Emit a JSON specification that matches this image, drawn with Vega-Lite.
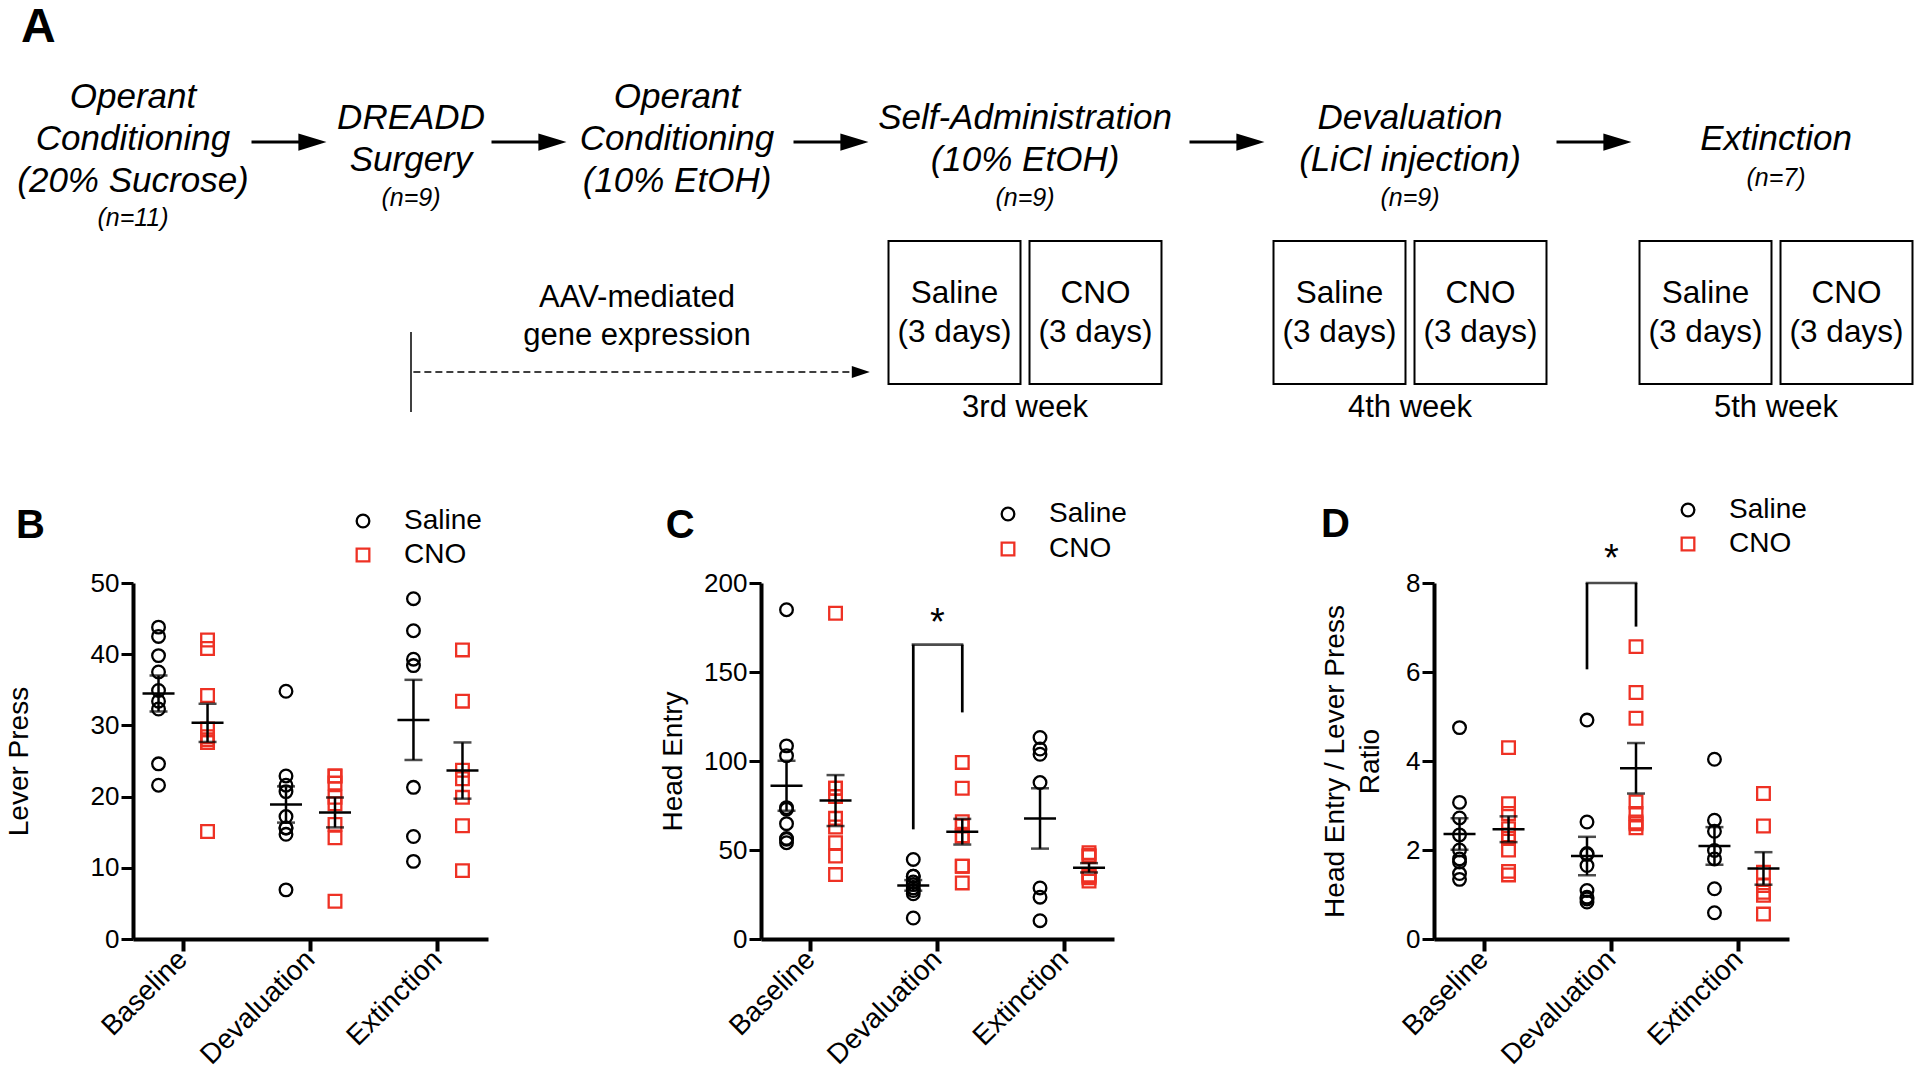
{
 "$schema": "https://vega.github.io/schema/vega-lite/v6.json",
 "padding": {"left": 5, "top": 0, "right": 0, "bottom": 0},
 "background": "white",
 "bounds": "flush",
 "spacing": 143,
 "resolve": {"scale": {"color": "independent", "shape": "independent"}},
 "datasets": {
  "stages": [
   {"stage": 1, "title": "Operant\nConditioning\n(20% Sucrose)", "n": "(n=11)", "lines": 3},
   {"stage": 2, "title": "DREADD\nSurgery", "n": "(n=9)", "lines": 2},
   {"stage": 3, "title": "Operant\nConditioning\n(10% EtOH)", "n": "", "lines": 3},
   {"stage": 4, "title": "Self-Administration\n(10% EtOH)", "n": "(n=9)", "lines": 2},
   {"stage": 5, "title": "Devaluation\n(LiCl injection)", "n": "(n=9)", "lines": 2},
   {"stage": 6, "title": "Extinction", "n": "(n=7)", "lines": 1}
  ],
  "arrows": [{"stage": 1.5}, {"stage": 2.5}, {"stage": 3.5}, {"stage": 4.5}, {"stage": 5.5}],
  "boxes": [
   {"stage": 4, "week": "3rd week"},
   {"stage": 5, "week": "4th week"},
   {"stage": 6, "week": "5th week"}
  ],
  "points": [
   {"panel": "B", "cond": "Baseline", "group": "Saline", "value": 43.8},
   {"panel": "B", "cond": "Baseline", "group": "Saline", "value": 42.5},
   {"panel": "B", "cond": "Baseline", "group": "Saline", "value": 39.8},
   {"panel": "B", "cond": "Baseline", "group": "Saline", "value": 37.5},
   {"panel": "B", "cond": "Baseline", "group": "Saline", "value": 34.9},
   {"panel": "B", "cond": "Baseline", "group": "Saline", "value": 33.4},
   {"panel": "B", "cond": "Baseline", "group": "Saline", "value": 32.3},
   {"panel": "B", "cond": "Baseline", "group": "Saline", "value": 24.6},
   {"panel": "B", "cond": "Baseline", "group": "Saline", "value": 21.6},
   {"panel": "B", "cond": "Baseline", "group": "CNO", "value": 42.0},
   {"panel": "B", "cond": "Baseline", "group": "CNO", "value": 40.8},
   {"panel": "B", "cond": "Baseline", "group": "CNO", "value": 34.2},
   {"panel": "B", "cond": "Baseline", "group": "CNO", "value": 29.5},
   {"panel": "B", "cond": "Baseline", "group": "CNO", "value": 28.4},
   {"panel": "B", "cond": "Baseline", "group": "CNO", "value": 28.0},
   {"panel": "B", "cond": "Baseline", "group": "CNO", "value": 27.6},
   {"panel": "B", "cond": "Baseline", "group": "CNO", "value": 27.6},
   {"panel": "B", "cond": "Baseline", "group": "CNO", "value": 15.1},
   {"panel": "B", "cond": "Devaluation", "group": "Saline", "value": 34.8},
   {"panel": "B", "cond": "Devaluation", "group": "Saline", "value": 22.9},
   {"panel": "B", "cond": "Devaluation", "group": "Saline", "value": 21.6},
   {"panel": "B", "cond": "Devaluation", "group": "Saline", "value": 20.7},
   {"panel": "B", "cond": "Devaluation", "group": "Saline", "value": 17.2},
   {"panel": "B", "cond": "Devaluation", "group": "Saline", "value": 15.6},
   {"panel": "B", "cond": "Devaluation", "group": "Saline", "value": 15.6},
   {"panel": "B", "cond": "Devaluation", "group": "Saline", "value": 14.7},
   {"panel": "B", "cond": "Devaluation", "group": "Saline", "value": 6.9},
   {"panel": "B", "cond": "Devaluation", "group": "CNO", "value": 22.9},
   {"panel": "B", "cond": "Devaluation", "group": "CNO", "value": 22.9},
   {"panel": "B", "cond": "Devaluation", "group": "CNO", "value": 21.9},
   {"panel": "B", "cond": "Devaluation", "group": "CNO", "value": 19.9},
   {"panel": "B", "cond": "Devaluation", "group": "CNO", "value": 19.0},
   {"panel": "B", "cond": "Devaluation", "group": "CNO", "value": 16.1},
   {"panel": "B", "cond": "Devaluation", "group": "CNO", "value": 14.2},
   {"panel": "B", "cond": "Devaluation", "group": "CNO", "value": 5.3},
   {"panel": "B", "cond": "Extinction", "group": "Saline", "value": 47.8},
   {"panel": "B", "cond": "Extinction", "group": "Saline", "value": 43.3},
   {"panel": "B", "cond": "Extinction", "group": "Saline", "value": 39.3},
   {"panel": "B", "cond": "Extinction", "group": "Saline", "value": 38.4},
   {"panel": "B", "cond": "Extinction", "group": "Saline", "value": 21.3},
   {"panel": "B", "cond": "Extinction", "group": "Saline", "value": 14.4},
   {"panel": "B", "cond": "Extinction", "group": "Saline", "value": 10.9},
   {"panel": "B", "cond": "Extinction", "group": "CNO", "value": 40.6},
   {"panel": "B", "cond": "Extinction", "group": "CNO", "value": 33.4},
   {"panel": "B", "cond": "Extinction", "group": "CNO", "value": 23.7},
   {"panel": "B", "cond": "Extinction", "group": "CNO", "value": 22.5},
   {"panel": "B", "cond": "Extinction", "group": "CNO", "value": 19.9},
   {"panel": "B", "cond": "Extinction", "group": "CNO", "value": 15.9},
   {"panel": "B", "cond": "Extinction", "group": "CNO", "value": 9.6},
   {"panel": "C", "cond": "Baseline", "group": "Saline", "value": 185},
   {"panel": "C", "cond": "Baseline", "group": "Saline", "value": 108.5},
   {"panel": "C", "cond": "Baseline", "group": "Saline", "value": 103},
   {"panel": "C", "cond": "Baseline", "group": "Saline", "value": 73.8},
   {"panel": "C", "cond": "Baseline", "group": "Saline", "value": 72.9},
   {"panel": "C", "cond": "Baseline", "group": "Saline", "value": 64.8},
   {"panel": "C", "cond": "Baseline", "group": "Saline", "value": 56.5},
   {"panel": "C", "cond": "Baseline", "group": "Saline", "value": 56},
   {"panel": "C", "cond": "Baseline", "group": "Saline", "value": 54.1},
   {"panel": "C", "cond": "Baseline", "group": "CNO", "value": 183},
   {"panel": "C", "cond": "Baseline", "group": "CNO", "value": 84.7},
   {"panel": "C", "cond": "Baseline", "group": "CNO", "value": 84.7},
   {"panel": "C", "cond": "Baseline", "group": "CNO", "value": 80},
   {"panel": "C", "cond": "Baseline", "group": "CNO", "value": 67.8},
   {"panel": "C", "cond": "Baseline", "group": "CNO", "value": 62.9},
   {"panel": "C", "cond": "Baseline", "group": "CNO", "value": 54.1},
   {"panel": "C", "cond": "Baseline", "group": "CNO", "value": 46.6},
   {"panel": "C", "cond": "Baseline", "group": "CNO", "value": 36.2},
   {"panel": "C", "cond": "Devaluation", "group": "Saline", "value": 44.7},
   {"panel": "C", "cond": "Devaluation", "group": "Saline", "value": 35.3},
   {"panel": "C", "cond": "Devaluation", "group": "Saline", "value": 35.3},
   {"panel": "C", "cond": "Devaluation", "group": "Saline", "value": 32},
   {"panel": "C", "cond": "Devaluation", "group": "Saline", "value": 30.6},
   {"panel": "C", "cond": "Devaluation", "group": "Saline", "value": 28.7},
   {"panel": "C", "cond": "Devaluation", "group": "Saline", "value": 27.2},
   {"panel": "C", "cond": "Devaluation", "group": "Saline", "value": 25.4},
   {"panel": "C", "cond": "Devaluation", "group": "Saline", "value": 11.8},
   {"panel": "C", "cond": "Devaluation", "group": "CNO", "value": 99.2},
   {"panel": "C", "cond": "Devaluation", "group": "CNO", "value": 84.7},
   {"panel": "C", "cond": "Devaluation", "group": "CNO", "value": 65.9},
   {"panel": "C", "cond": "Devaluation", "group": "CNO", "value": 63.5},
   {"panel": "C", "cond": "Devaluation", "group": "CNO", "value": 58},
   {"panel": "C", "cond": "Devaluation", "group": "CNO", "value": 57.8},
   {"panel": "C", "cond": "Devaluation", "group": "CNO", "value": 40.9},
   {"panel": "C", "cond": "Devaluation", "group": "CNO", "value": 40.9},
   {"panel": "C", "cond": "Devaluation", "group": "CNO", "value": 31.5},
   {"panel": "C", "cond": "Extinction", "group": "Saline", "value": 113.2},
   {"panel": "C", "cond": "Extinction", "group": "Saline", "value": 106.7},
   {"panel": "C", "cond": "Extinction", "group": "Saline", "value": 103.8},
   {"panel": "C", "cond": "Extinction", "group": "Saline", "value": 87.9},
   {"panel": "C", "cond": "Extinction", "group": "Saline", "value": 28.7},
   {"panel": "C", "cond": "Extinction", "group": "Saline", "value": 23.5},
   {"panel": "C", "cond": "Extinction", "group": "Saline", "value": 10.3},
   {"panel": "C", "cond": "Extinction", "group": "CNO", "value": 48.5},
   {"panel": "C", "cond": "Extinction", "group": "CNO", "value": 47.1},
   {"panel": "C", "cond": "Extinction", "group": "CNO", "value": 46.3},
   {"panel": "C", "cond": "Extinction", "group": "CNO", "value": 35.9},
   {"panel": "C", "cond": "Extinction", "group": "CNO", "value": 35.3},
   {"panel": "C", "cond": "Extinction", "group": "CNO", "value": 34.4},
   {"panel": "C", "cond": "Extinction", "group": "CNO", "value": 32.5},
   {"panel": "D", "cond": "Baseline", "group": "Saline", "value": 4.75},
   {"panel": "D", "cond": "Baseline", "group": "Saline", "value": 3.07},
   {"panel": "D", "cond": "Baseline", "group": "Saline", "value": 2.72},
   {"panel": "D", "cond": "Baseline", "group": "Saline", "value": 2.34},
   {"panel": "D", "cond": "Baseline", "group": "Saline", "value": 2.0},
   {"panel": "D", "cond": "Baseline", "group": "Saline", "value": 1.8},
   {"panel": "D", "cond": "Baseline", "group": "Saline", "value": 1.73},
   {"panel": "D", "cond": "Baseline", "group": "Saline", "value": 1.47},
   {"panel": "D", "cond": "Baseline", "group": "Saline", "value": 1.34},
   {"panel": "D", "cond": "Baseline", "group": "CNO", "value": 4.3},
   {"panel": "D", "cond": "Baseline", "group": "CNO", "value": 3.04},
   {"panel": "D", "cond": "Baseline", "group": "CNO", "value": 2.82},
   {"panel": "D", "cond": "Baseline", "group": "CNO", "value": 2.48},
   {"panel": "D", "cond": "Baseline", "group": "CNO", "value": 2.34},
   {"panel": "D", "cond": "Baseline", "group": "CNO", "value": 2.26},
   {"panel": "D", "cond": "Baseline", "group": "CNO", "value": 2.0},
   {"panel": "D", "cond": "Baseline", "group": "CNO", "value": 1.52},
   {"panel": "D", "cond": "Baseline", "group": "CNO", "value": 1.44},
   {"panel": "D", "cond": "Devaluation", "group": "Saline", "value": 4.92},
   {"panel": "D", "cond": "Devaluation", "group": "Saline", "value": 2.63},
   {"panel": "D", "cond": "Devaluation", "group": "Saline", "value": 1.92},
   {"panel": "D", "cond": "Devaluation", "group": "Saline", "value": 1.9},
   {"panel": "D", "cond": "Devaluation", "group": "Saline", "value": 1.65},
   {"panel": "D", "cond": "Devaluation", "group": "Saline", "value": 1.09},
   {"panel": "D", "cond": "Devaluation", "group": "Saline", "value": 0.94},
   {"panel": "D", "cond": "Devaluation", "group": "Saline", "value": 0.9},
   {"panel": "D", "cond": "Devaluation", "group": "Saline", "value": 0.83},
   {"panel": "D", "cond": "Devaluation", "group": "CNO", "value": 6.57},
   {"panel": "D", "cond": "Devaluation", "group": "CNO", "value": 5.54},
   {"panel": "D", "cond": "Devaluation", "group": "CNO", "value": 4.96},
   {"panel": "D", "cond": "Devaluation", "group": "CNO", "value": 3.08},
   {"panel": "D", "cond": "Devaluation", "group": "CNO", "value": 2.82},
   {"panel": "D", "cond": "Devaluation", "group": "CNO", "value": 2.63},
   {"panel": "D", "cond": "Devaluation", "group": "CNO", "value": 2.59},
   {"panel": "D", "cond": "Devaluation", "group": "CNO", "value": 2.5},
   {"panel": "D", "cond": "Extinction", "group": "Saline", "value": 4.04},
   {"panel": "D", "cond": "Extinction", "group": "Saline", "value": 2.67},
   {"panel": "D", "cond": "Extinction", "group": "Saline", "value": 2.42},
   {"panel": "D", "cond": "Extinction", "group": "Saline", "value": 1.99},
   {"panel": "D", "cond": "Extinction", "group": "Saline", "value": 1.8},
   {"panel": "D", "cond": "Extinction", "group": "Saline", "value": 1.13},
   {"panel": "D", "cond": "Extinction", "group": "Saline", "value": 0.59},
   {"panel": "D", "cond": "Extinction", "group": "CNO", "value": 3.27},
   {"panel": "D", "cond": "Extinction", "group": "CNO", "value": 2.54},
   {"panel": "D", "cond": "Extinction", "group": "CNO", "value": 1.5},
   {"panel": "D", "cond": "Extinction", "group": "CNO", "value": 1.2},
   {"panel": "D", "cond": "Extinction", "group": "CNO", "value": 1.05},
   {"panel": "D", "cond": "Extinction", "group": "CNO", "value": 0.98},
   {"panel": "D", "cond": "Extinction", "group": "CNO", "value": 0.56}
  ],
  "brackets": [
   {"panel": "C", "cond": "Devaluation", "group": "Saline", "lo": 61.6, "hi": 165.4},
   {"panel": "C", "cond": "Devaluation", "group": "CNO", "lo": 127.3, "hi": 165.4},
   {"panel": "D", "cond": "Devaluation", "group": "Saline", "lo": 6.06, "hi": 8},
   {"panel": "D", "cond": "Devaluation", "group": "CNO", "lo": 7.02, "hi": 8}
  ]
 },
 "vconcat": [
  {
   "width": 1787,
   "height": 440,
   "layer": [
    {
     "data": {"values": [{"label": "A"}]},
     "mark": {"type": "text", "align": "left", "baseline": "alphabetic", "fontSize": 48, "fontWeight": "bold"},
     "encoding": {
      "text": {"field": "label"},
      "x": {"datum": 0, "type": "quantitative", "scale": {"domain": [0, 1, 1.5, 2, 2.5, 3, 3.5, 4, 4.5, 5, 5.5, 6], "range": [-112, 0, 156, 278, 396, 544, 698, 892, 1094, 1277, 1461, 1643], "nice": false, "zero": false}, "axis": null},
      "y": {"datum": 42, "type": "quantitative", "scale": {"domain": [0, 440], "reverse": true, "nice": false, "zero": false}, "axis": null}
     }
    },
    {
     "data": {"name": "stages"},
     "transform": [{"filter": "datum.lines === 3"}],
     "mark": {"type": "text", "align": "center", "baseline": "alphabetic", "fontSize": 35, "fontStyle": "italic", "lineBreak": "\n", "lineHeight": 42},
     "encoding": {
      "text": {"field": "title"},
      "x": {"field": "stage", "type": "quantitative", "axis": null},
      "y": {"datum": 108, "type": "quantitative", "axis": null}
     }
    },
    {
     "data": {"name": "stages"},
     "transform": [{"filter": "datum.lines === 2"}],
     "mark": {"type": "text", "align": "center", "baseline": "alphabetic", "fontSize": 35, "fontStyle": "italic", "lineBreak": "\n", "lineHeight": 42},
     "encoding": {
      "text": {"field": "title"},
      "x": {"field": "stage", "type": "quantitative", "axis": null},
      "y": {"datum": 129, "type": "quantitative", "axis": null}
     }
    },
    {
     "data": {"name": "stages"},
     "transform": [{"filter": "datum.lines === 1"}],
     "mark": {"type": "text", "align": "center", "baseline": "alphabetic", "fontSize": 35, "fontStyle": "italic", "lineBreak": "\n", "lineHeight": 42},
     "encoding": {
      "text": {"field": "title"},
      "x": {"field": "stage", "type": "quantitative", "axis": null},
      "y": {"datum": 150, "type": "quantitative", "axis": null}
     }
    },
    {
     "data": {"name": "stages"},
     "transform": [{"filter": "datum.lines === 3"}],
     "mark": {"type": "text", "align": "center", "baseline": "alphabetic", "fontSize": 25, "fontStyle": "italic"},
     "encoding": {
      "text": {"field": "n"},
      "x": {"field": "stage", "type": "quantitative", "axis": null},
      "y": {"datum": 226, "type": "quantitative", "axis": null}
     }
    },
    {
     "data": {"name": "stages"},
     "transform": [{"filter": "datum.lines === 2"}],
     "mark": {"type": "text", "align": "center", "baseline": "alphabetic", "fontSize": 25, "fontStyle": "italic"},
     "encoding": {
      "text": {"field": "n"},
      "x": {"field": "stage", "type": "quantitative", "axis": null},
      "y": {"datum": 206, "type": "quantitative", "axis": null}
     }
    },
    {
     "data": {"name": "stages"},
     "transform": [{"filter": "datum.lines === 1"}],
     "mark": {"type": "text", "align": "center", "baseline": "alphabetic", "fontSize": 25, "fontStyle": "italic"},
     "encoding": {
      "text": {"field": "n"},
      "x": {"field": "stage", "type": "quantitative", "axis": null},
      "y": {"datum": 186, "type": "quantitative", "axis": null}
     }
    },
    {
     "data": {"name": "arrows"},
     "mark": {"type": "point", "shape": "M-1,-0.04L0.25,-0.04L0.25,-0.23L1,0L0.25,0.23L0.25,0.04L-1,0.04Z", "size": 5625, "filled": true, "color": "black", "opacity": 1, "strokeWidth": 0},
     "encoding": {
      "x": {"field": "stage", "type": "quantitative", "axis": null},
      "y": {"datum": 142, "type": "quantitative", "axis": null}
     }
    },
    {
     "data": {"values": [{"label": "tick"}]},
     "mark": {"type": "rule", "strokeWidth": 1.5, "color": "black"},
     "encoding": {
      "x": {"datum": 2, "type": "quantitative", "axis": null},
      "y": {"datum": 332, "type": "quantitative", "axis": null},
      "y2": {"datum": 412}
     }
    },
    {
     "data": {"values": [{"label": "dash"}]},
     "mark": {"type": "rule", "strokeWidth": 1.5, "color": "black", "strokeDash": [7, 4]},
     "encoding": {
      "x": {"datum": 2.01, "type": "quantitative", "axis": null},
      "x2": {"datum": 3.56},
      "y": {"datum": 372, "type": "quantitative", "axis": null}
     }
    },
    {
     "data": {"values": [{"label": "head"}]},
     "mark": {"type": "point", "shape": "M-1,-0.33L0,0L-1,0.33Z", "size": 1296, "filled": true, "color": "black", "opacity": 1, "strokeWidth": 0},
     "encoding": {
      "x": {"datum": 3.6, "type": "quantitative", "axis": null},
      "y": {"datum": 372, "type": "quantitative", "axis": null}
     }
    },
    {
     "data": {"values": [{"label": "AAV-mediated\ngene expression"}]},
     "mark": {"type": "text", "align": "center", "baseline": "alphabetic", "fontSize": 31, "lineBreak": "\n", "lineHeight": 38},
     "encoding": {
      "text": {"field": "label"},
      "x": {"datum": 2.865, "type": "quantitative", "axis": null},
      "y": {"datum": 307, "type": "quantitative", "axis": null}
     }
    },
    {
     "data": {"name": "boxes"},
     "mark": {"type": "point", "shape": "M-1.909,-1L-0.063,-1L-0.063,1L-1.909,1Z M0.063,-1L1.909,-1L1.909,1L0.063,1Z", "size": 20449, "filled": false, "color": "black", "opacity": 1, "strokeWidth": 2},
     "encoding": {
      "x": {"field": "stage", "type": "quantitative", "axis": null},
      "y": {"datum": 312.5, "type": "quantitative", "axis": null}
     }
    },
    {
     "data": {"name": "boxes"},
     "mark": {"type": "text", "align": "center", "baseline": "alphabetic", "fontSize": 31.5, "lineBreak": "\n", "lineHeight": 39, "dx": -70.5, "text": "Saline\n(3 days)"},
     "encoding": {
      "x": {"field": "stage", "type": "quantitative", "axis": null},
      "y": {"datum": 303, "type": "quantitative", "axis": null}
     }
    },
    {
     "data": {"name": "boxes"},
     "mark": {"type": "text", "align": "center", "baseline": "alphabetic", "fontSize": 31.5, "lineBreak": "\n", "lineHeight": 39, "dx": 70.5, "text": "CNO\n(3 days)"},
     "encoding": {
      "x": {"field": "stage", "type": "quantitative", "axis": null},
      "y": {"datum": 303, "type": "quantitative", "axis": null}
     }
    },
    {
     "data": {"name": "boxes"},
     "mark": {"type": "text", "align": "center", "baseline": "alphabetic", "fontSize": 31},
     "encoding": {
      "text": {"field": "week"},
      "x": {"field": "stage", "type": "quantitative", "axis": null},
      "y": {"datum": 417, "type": "quantitative", "axis": null}
     }
    }
   ]
  },
  {
   "bounds": "flush",
   "spacing": 0,
   "resolve": {"scale": {"color": "independent", "shape": "independent"}},
   "hconcat": [
    {
     "width": 355,
     "height": 356,
     "layer": [
      {
       "data": {"name": "points"},
       "transform": [{"filter": "datum.panel === 'B'"}],
       "mark": {"type": "point", "filled": false, "strokeWidth": 2.3, "size": 160, "opacity": 1},
       "encoding": {
        "x": {"field": "cond", "type": "nominal", "title": null, "sort": ["Baseline", "Devaluation", "Extinction"], "scale": {"paddingInner": 0.231, "paddingOuter": 0.008}},
        "xOffset": {"field": "group", "type": "nominal", "sort": ["Saline", "CNO"], "scale": {"paddingInner": 0, "paddingOuter": 0}},
        "y": {"field": "value", "type": "quantitative", "title": "Lever Press", "scale": {"domain": [0, 50], "nice": false}, "axis": {"values": [0, 10, 20, 30, 40, 50], "titlePadding": 57}},
        "shape": {"field": "group", "type": "nominal", "scale": {"domain": ["Saline", "CNO"], "range": ["circle", "square"]}, "legend": {"title": null, "orient": "none", "legendX": 216, "legendY": -76, "padding": 0, "rowPadding": 6, "labelOffset": 27, "labelFontSize": 28, "symbolSize": 160, "symbolStrokeWidth": 2.3}},
        "color": {"field": "group", "type": "nominal", "scale": {"domain": ["Saline", "CNO"], "range": ["#000000", "#ee3124"]}, "legend": {"title": null, "orient": "none", "legendX": 216, "legendY": -76, "padding": 0, "rowPadding": 6, "labelOffset": 27, "labelFontSize": 28, "symbolSize": 160, "symbolStrokeWidth": 2.3}}
       }
      },
      {
       "data": {"name": "points"},
       "transform": [{"filter": "datum.panel === 'B'"}],
       "mark": {"type": "tick", "size": 32, "thickness": 2.5, "color": "black"},
       "encoding": {
        "x": {"field": "cond", "type": "nominal", "title": null, "sort": ["Baseline", "Devaluation", "Extinction"]},
        "xOffset": {"field": "group", "type": "nominal", "sort": ["Saline", "CNO"]},
        "y": {"aggregate": "mean", "field": "value", "type": "quantitative", "title": "Lever Press"}
       }
      },
      {
       "data": {"name": "points"},
       "transform": [{"filter": "datum.panel === 'B'"}],
       "mark": {"type": "errorbar", "extent": "stderr", "ticks": true, "size": 18, "thickness": 2.5, "color": "black"},
       "encoding": {
        "x": {"field": "cond", "type": "nominal", "title": null, "sort": ["Baseline", "Devaluation", "Extinction"]},
        "xOffset": {"field": "group", "type": "nominal", "sort": ["Saline", "CNO"]},
        "y": {"field": "value", "type": "quantitative", "title": "Lever Press"}
       }
      },
      {
       "data": {"values": [{"label": "B"}]},
       "mark": {"type": "text", "align": "left", "baseline": "alphabetic", "fontSize": 40, "fontWeight": "bold", "dx": -167, "dy": -45},
       "encoding": {
        "text": {"field": "label"},
        "x": {"datum": "Baseline", "type": "nominal", "title": null},
        "y": {"datum": 50, "type": "quantitative", "title": "Lever Press"}
       }
      }
     ]
    },
    {
     "width": 273,
     "height": 356,
     "data": {"values": [{"label": "gap"}]},
     "mark": {"type": "point", "opacity": 0},
     "encoding": {}
    },
    {
     "width": 353,
     "height": 356,
     "layer": [
      {
       "data": {"name": "points"},
       "transform": [{"filter": "datum.panel === 'C'"}],
       "mark": {"type": "point", "filled": false, "strokeWidth": 2.3, "size": 160, "opacity": 1},
       "encoding": {
        "x": {"field": "cond", "type": "nominal", "title": null, "sort": ["Baseline", "Devaluation", "Extinction"], "scale": {"paddingInner": 0.231, "paddingOuter": 0.008}},
        "xOffset": {"field": "group", "type": "nominal", "sort": ["Saline", "CNO"], "scale": {"paddingInner": 0, "paddingOuter": 0}},
        "y": {"field": "value", "type": "quantitative", "title": "Head Entry", "scale": {"domain": [0, 200], "nice": false}, "axis": {"values": [0, 50, 100, 150, 200], "titlePadding": 16}},
        "shape": {"field": "group", "type": "nominal", "scale": {"domain": ["Saline", "CNO"], "range": ["circle", "square"]}, "legend": {"title": null, "orient": "none", "legendX": 233, "legendY": -83, "padding": 0, "rowPadding": 7, "labelOffset": 27, "labelFontSize": 28, "symbolSize": 160, "symbolStrokeWidth": 2.3}},
        "color": {"field": "group", "type": "nominal", "scale": {"domain": ["Saline", "CNO"], "range": ["#000000", "#ee3124"]}, "legend": {"title": null, "orient": "none", "legendX": 233, "legendY": -83, "padding": 0, "rowPadding": 7, "labelOffset": 27, "labelFontSize": 28, "symbolSize": 160, "symbolStrokeWidth": 2.3}}
       }
      },
      {
       "data": {"name": "points"},
       "transform": [{"filter": "datum.panel === 'C'"}],
       "mark": {"type": "tick", "size": 32, "thickness": 2.5, "color": "black"},
       "encoding": {
        "x": {"field": "cond", "type": "nominal", "title": null, "sort": ["Baseline", "Devaluation", "Extinction"]},
        "xOffset": {"field": "group", "type": "nominal", "sort": ["Saline", "CNO"]},
        "y": {"aggregate": "mean", "field": "value", "type": "quantitative", "title": "Head Entry"}
       }
      },
      {
       "data": {"name": "points"},
       "transform": [{"filter": "datum.panel === 'C'"}],
       "mark": {"type": "errorbar", "extent": "stderr", "ticks": true, "size": 18, "thickness": 2.5, "color": "black"},
       "encoding": {
        "x": {"field": "cond", "type": "nominal", "title": null, "sort": ["Baseline", "Devaluation", "Extinction"]},
        "xOffset": {"field": "group", "type": "nominal", "sort": ["Saline", "CNO"]},
        "y": {"field": "value", "type": "quantitative", "title": "Head Entry"}
       }
      },
      {
       "data": {"name": "brackets"},
       "transform": [{"filter": "datum.panel === 'C'"}],
       "mark": {"type": "rule", "strokeWidth": 2.7, "color": "black"},
       "encoding": {
        "x": {"field": "cond", "type": "nominal", "title": null, "sort": ["Baseline", "Devaluation", "Extinction"]},
        "xOffset": {"field": "group", "type": "nominal", "sort": ["Saline", "CNO"]},
        "y": {"field": "lo", "type": "quantitative", "title": "Head Entry"},
        "y2": {"field": "hi"}
       }
      },
      {
       "data": {"name": "brackets"},
       "transform": [{"filter": "datum.panel === 'C' && datum.group === 'Saline'"}],
       "mark": {"type": "tick", "size": 51.7, "thickness": 2.7, "color": "black"},
       "encoding": {
        "x": {"field": "cond", "type": "nominal", "title": null, "sort": ["Baseline", "Devaluation", "Extinction"]},
        "y": {"field": "hi", "type": "quantitative", "title": "Head Entry"}
       }
      },
      {
       "data": {"name": "brackets"},
       "transform": [{"filter": "datum.panel === 'C' && datum.group === 'Saline'"}],
       "mark": {"type": "text", "text": "*", "fontSize": 38, "baseline": "alphabetic", "dy": -10},
       "encoding": {
        "x": {"field": "cond", "type": "nominal", "title": null, "sort": ["Baseline", "Devaluation", "Extinction"]},
        "y": {"field": "hi", "type": "quantitative", "title": "Head Entry"}
       }
      },
      {
       "data": {"values": [{"label": "C"}]},
       "mark": {"type": "text", "align": "left", "baseline": "alphabetic", "fontSize": 40, "fontWeight": "bold", "dx": -145, "dy": -45},
       "encoding": {
        "text": {"field": "label"},
        "x": {"datum": "Baseline", "type": "nominal", "title": null},
        "y": {"datum": 200, "type": "quantitative", "title": "Head Entry"}
       }
      }
     ]
    },
    {
     "width": 320,
     "height": 356,
     "data": {"values": [{"label": "gap"}]},
     "mark": {"type": "point", "opacity": 0},
     "encoding": {}
    },
    {
     "width": 355,
     "height": 356,
     "layer": [
      {
       "data": {"name": "points"},
       "transform": [{"filter": "datum.panel === 'D'"}],
       "mark": {"type": "point", "filled": false, "strokeWidth": 2.3, "size": 160, "opacity": 1},
       "encoding": {
        "x": {"field": "cond", "type": "nominal", "title": null, "sort": ["Baseline", "Devaluation", "Extinction"], "scale": {"paddingInner": 0.231, "paddingOuter": 0.008}},
        "xOffset": {"field": "group", "type": "nominal", "sort": ["Saline", "CNO"], "scale": {"paddingInner": 0, "paddingOuter": 0}},
        "y": {"field": "value", "type": "quantitative", "title": ["Head Entry / Lever Press", "Ratio"], "scale": {"domain": [0, 8], "nice": false}, "axis": {"values": [0, 2, 4, 6, 8], "titlePadding": 21, "titleLineHeight": 35}},
        "shape": {"field": "group", "type": "nominal", "scale": {"domain": ["Saline", "CNO"], "range": ["circle", "square"]}, "legend": {"title": null, "orient": "none", "legendX": 240, "legendY": -87, "padding": 0, "rowPadding": 6, "labelOffset": 27, "labelFontSize": 28, "symbolSize": 160, "symbolStrokeWidth": 2.3}},
        "color": {"field": "group", "type": "nominal", "scale": {"domain": ["Saline", "CNO"], "range": ["#000000", "#ee3124"]}, "legend": {"title": null, "orient": "none", "legendX": 240, "legendY": -87, "padding": 0, "rowPadding": 6, "labelOffset": 27, "labelFontSize": 28, "symbolSize": 160, "symbolStrokeWidth": 2.3}}
       }
      },
      {
       "data": {"name": "points"},
       "transform": [{"filter": "datum.panel === 'D'"}],
       "mark": {"type": "tick", "size": 32, "thickness": 2.5, "color": "black"},
       "encoding": {
        "x": {"field": "cond", "type": "nominal", "title": null, "sort": ["Baseline", "Devaluation", "Extinction"]},
        "xOffset": {"field": "group", "type": "nominal", "sort": ["Saline", "CNO"]},
        "y": {"aggregate": "mean", "field": "value", "type": "quantitative", "title": ["Head Entry / Lever Press", "Ratio"]}
       }
      },
      {
       "data": {"name": "points"},
       "transform": [{"filter": "datum.panel === 'D'"}],
       "mark": {"type": "errorbar", "extent": "stderr", "ticks": true, "size": 18, "thickness": 2.5, "color": "black"},
       "encoding": {
        "x": {"field": "cond", "type": "nominal", "title": null, "sort": ["Baseline", "Devaluation", "Extinction"]},
        "xOffset": {"field": "group", "type": "nominal", "sort": ["Saline", "CNO"]},
        "y": {"field": "value", "type": "quantitative", "title": ["Head Entry / Lever Press", "Ratio"]}
       }
      },
      {
       "data": {"name": "brackets"},
       "transform": [{"filter": "datum.panel === 'D'"}],
       "mark": {"type": "rule", "strokeWidth": 2.7, "color": "black"},
       "encoding": {
        "x": {"field": "cond", "type": "nominal", "title": null, "sort": ["Baseline", "Devaluation", "Extinction"]},
        "xOffset": {"field": "group", "type": "nominal", "sort": ["Saline", "CNO"]},
        "y": {"field": "lo", "type": "quantitative", "title": ["Head Entry / Lever Press", "Ratio"]},
        "y2": {"field": "hi"}
       }
      },
      {
       "data": {"name": "brackets"},
       "transform": [{"filter": "datum.panel === 'D' && datum.group === 'Saline'"}],
       "mark": {"type": "tick", "size": 51.7, "thickness": 2.7, "color": "black"},
       "encoding": {
        "x": {"field": "cond", "type": "nominal", "title": null, "sort": ["Baseline", "Devaluation", "Extinction"]},
        "y": {"field": "hi", "type": "quantitative", "title": ["Head Entry / Lever Press", "Ratio"]}
       }
      },
      {
       "data": {"name": "brackets"},
       "transform": [{"filter": "datum.panel === 'D' && datum.group === 'Saline'"}],
       "mark": {"type": "text", "text": "*", "fontSize": 38, "baseline": "alphabetic", "dy": -12},
       "encoding": {
        "x": {"field": "cond", "type": "nominal", "title": null, "sort": ["Baseline", "Devaluation", "Extinction"]},
        "y": {"field": "hi", "type": "quantitative", "title": ["Head Entry / Lever Press", "Ratio"]}
       }
      },
      {
       "data": {"values": [{"label": "D"}]},
       "mark": {"type": "text", "align": "left", "baseline": "alphabetic", "fontSize": 40, "fontWeight": "bold", "dx": -163, "dy": -46},
       "encoding": {
        "text": {"field": "label"},
        "x": {"datum": "Baseline", "type": "nominal", "title": null},
        "y": {"datum": 8, "type": "quantitative", "title": ["Head Entry / Lever Press", "Ratio"]}
       }
      }
     ]
    }
   ]
  }
 ],
 "config": {
  "font": "Liberation Sans",
  "view": {"stroke": null},
  "axis": {"domainColor": "#000000", "tickColor": "#000000", "labelColor": "#000000", "titleColor": "#000000", "grid": false, "titleFontWeight": "normal"},
  "axisY": {"domainWidth": 4, "tickWidth": 3, "tickSize": 12, "labelFontSize": 26, "labelPadding": 2, "titleFontSize": 28},
  "axisX": {"domainWidth": 4, "tickWidth": 4, "tickSize": 12, "labelFontSize": 28, "labelAngle": -45, "labelAlign": "right", "labelBaseline": "middle", "labelPadding": 4},
  "legend": {"labelColor": "#000000"}
 }
}
